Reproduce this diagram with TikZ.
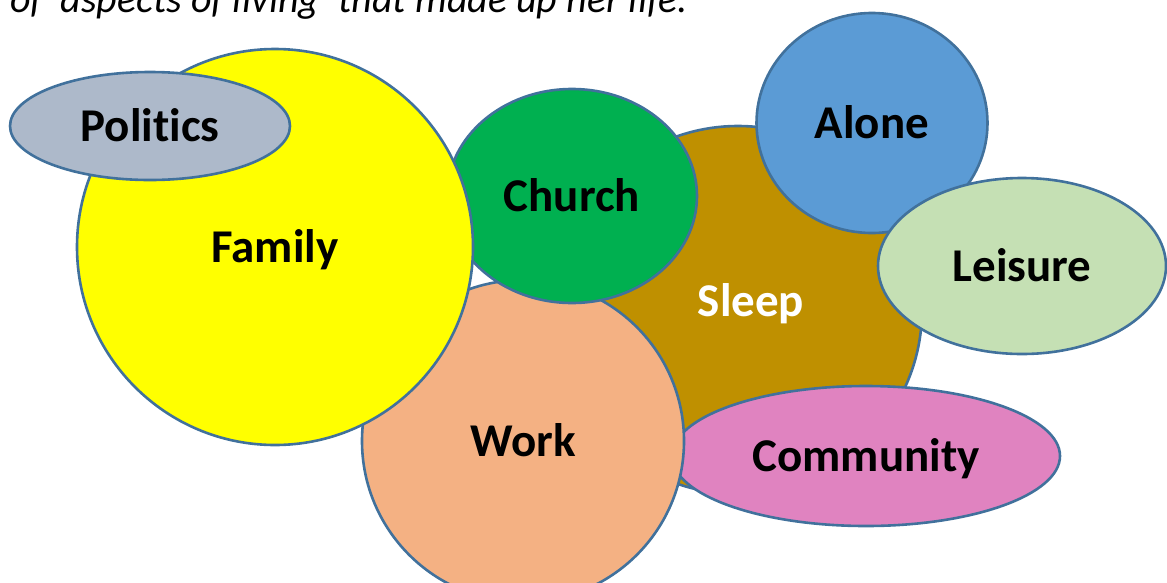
\documentclass[tikz,border=0pt]{standalone}
\usepackage{fontspec}
\setmainfont{Carlito}[Ligatures=CommonOff]
\usetikzlibrary{shapes.geometric}
\definecolor{rand}{RGB}{65,113,156}
\definecolor{familie}{RGB}{255,255,0}
\definecolor{politik}{RGB}{173,185,202}
\definecolor{kirche}{RGB}{0,176,80}
\definecolor{schlaf}{RGB}{191,144,0}
\definecolor{allein}{RGB}{91,155,213}
\definecolor{freizeit}{RGB}{197,224,180}
\definecolor{arbeit}{RGB}{244,177,131}
\definecolor{gemeinde}{RGB}{224,131,192}

\begin{document}
\begin{tikzpicture}[x=1pt, y=-1pt,
        wort/.style={inner sep=0pt, text height=30pt, text depth=0pt,
            font=\bfseries\fontsize{47}{50}\selectfont},
        blase/.style={wort, draw=rand, line width=2.6pt},
        kreis/.style={blase, circle, minimum size=#1},
        oval/.style 2 args={blase, ellipse, minimum width=#1, minimum height=#2}]

        \clip (0,0) rectangle (1167,582);  %Rahmen

        \node[anchor=base west, inner sep=0pt, font=\itshape\fontsize{40}{44}\selectfont] (titel) at (10,12)
            {of ‘aspects of living’ that made up her life.};  %abgeschnittene Zeile oben

        \node[kreis=368, fill=schlaf] (schlaf) at (738,310) {};  %unterste Blase
        \node[wort, text=white] (schlaftext) at (751,301) {Sleep};
        \node[oval={388}{140}, fill=gemeinde] (gemeinde) at (866,456) {Community};
        \node[kreis=322, fill=arbeit] (arbeit) at (523,441) {Work};
        \node[oval={250}{214}, fill=kirche] (kirche) at (572,196) {Church};
        \node[kreis=396, fill=familie] (familie) at (275,247) {Family};
        \node[oval={280}{108}, fill=politik] (politik) at (150,126) {Politics};
        \node[oval={231}{220}, fill=allein] (allein) at (872,123) {Alone};
        \node[oval={288}{176}, fill=freizeit] (freizeit) at (1022,266) {Leisure};  %oberste Blase

    \end{tikzpicture}
\end{document}
